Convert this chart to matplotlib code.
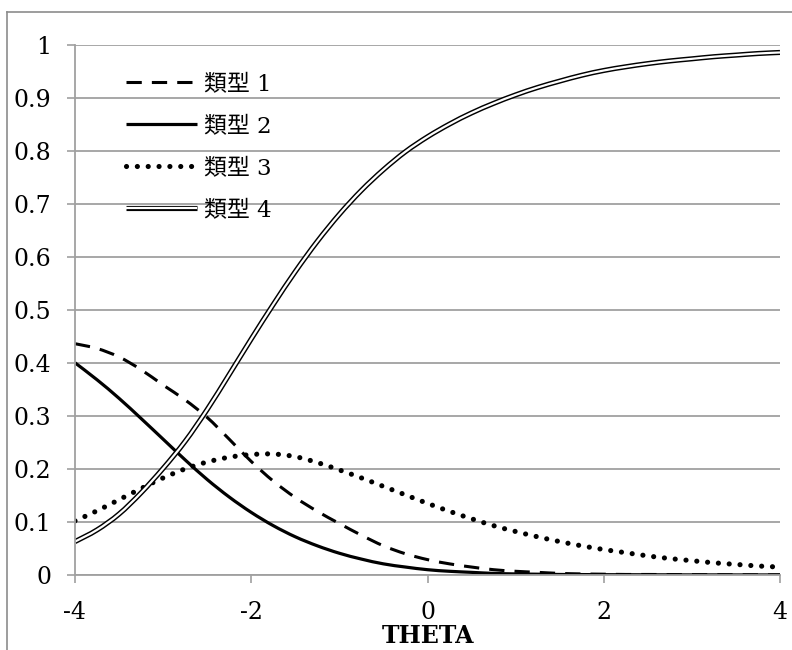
import matplotlib
matplotlib.use('Agg')
import matplotlib.pyplot as plt
from matplotlib.lines import Line2D
from matplotlib.patches import PathPatch
from matplotlib.path import Path
from matplotlib.ticker import FuncFormatter, MultipleLocator

plt.rcParams['font.family'] = ['DejaVu Serif', 'Noto Sans CJK JP']

theta = [-4.0, -3.75, -3.5, -3.25, -3.0, -2.75, -2.5, -2.25, -2.0, -1.75, -1.5, -1.25,
         -1.0, -0.75, -0.5, -0.25, 0.0, 0.25, 0.5, 0.75, 1.0, 1.25, 1.5, 1.75,
         2.0, 2.25, 2.5, 2.75, 3.0, 3.25, 3.5, 3.75, 4.0]

type1 = [0.436, 0.427, 0.411, 0.387, 0.358, 0.330, 0.297, 0.256, 0.214, 0.177, 0.146, 0.120,
         0.097, 0.075, 0.055, 0.040, 0.029, 0.021, 0.015, 0.010, 0.007, 0.005, 0.003, 0.002,
         0.0015, 0.001, 0.001, 0.0008, 0.0006, 0.0005, 0.0004, 0.0003, 0.0003]
type2 = [0.400, 0.368, 0.333, 0.295, 0.256, 0.217, 0.180, 0.147, 0.118, 0.093, 0.072, 0.055,
         0.041, 0.030, 0.021, 0.015, 0.010, 0.007, 0.005, 0.003, 0.002, 0.0015, 0.001, 0.0008,
         0.0006, 0.0005, 0.0004, 0.0003, 0.0002, 0.0002, 0.0001, 0.0001, 0.0001]
type3 = [0.102, 0.121, 0.142, 0.163, 0.183, 0.200, 0.213, 0.222, 0.227, 0.228, 0.223, 0.212,
         0.198, 0.183, 0.167, 0.151, 0.135, 0.120, 0.106, 0.093, 0.082, 0.072, 0.063, 0.055,
         0.048, 0.042, 0.036, 0.031, 0.027, 0.023, 0.020, 0.017, 0.015]
type4 = [0.063, 0.085, 0.115, 0.155, 0.201, 0.252, 0.312, 0.378, 0.445, 0.510, 0.572, 0.629,
         0.680, 0.725, 0.764, 0.798, 0.826, 0.850, 0.871, 0.889, 0.905, 0.919, 0.931, 0.942,
         0.951, 0.958, 0.964, 0.969, 0.973, 0.977, 0.980, 0.983, 0.985]

labels = ['類型 1', '類型 2', '類型 3', '類型 4']


def smooth_path(x, y):
    # Excel-like smoothed line: cubic bezier through every point (catmull-rom tangents)
    n = len(x)
    verts = [(x[0], y[0])]
    codes = [Path.MOVETO]
    for i in range(n - 1):
        a, b = max(i - 1, 0), min(i + 2, n - 1)
        c1 = (x[i] + (x[i + 1] - x[a]) / 6, y[i] + (y[i + 1] - y[a]) / 6)
        c2 = (x[i + 1] - (x[b] - x[i]) / 6, y[i + 1] - (y[b] - y[i]) / 6)
        verts += [c1, c2, (x[i + 1], y[i + 1])]
        codes += [Path.CURVE4] * 3
    return Path(verts, codes)


def draw(ax, y, **kw):
    ax.add_patch(PathPatch(smooth_path(theta, y), fill=False, **kw))


W, H = 792, 650
fig = plt.figure(figsize=(W / 100, H / 100), dpi=100)
ax = fig.add_axes([75 / W, 1 - 575 / H, 705 / W, 530.5 / H])

# outer chart border (cut by the image edge on the right and bottom)
border = '#8C8C8C'
fig.add_artist(Line2D([7 / W, 7 / W], [1 - 12 / H, 0], color=border, lw=1.2))
fig.add_artist(Line2D([7 / W, 1], [1 - 12 / H, 1 - 12 / H], color=border, lw=1.2))

grid = '#A0A0A0'
ax.grid(axis='y', color=grid, lw=1.3)
ax.set_axisbelow(True)
for s in ['top', 'right']:
    ax.spines[s].set_visible(False)
for s in ['left', 'bottom']:
    ax.spines[s].set_color(grid)
    ax.spines[s].set_linewidth(1.3)

dash = (0, (5, 3.3))
dots = (0, (0.01, 2.1))
draw(ax, type1, edgecolor='black', lw=2.2, linestyle=dash, capstyle='butt')
draw(ax, type2, edgecolor='black', lw=2.3, capstyle='butt')
draw(ax, type3, edgecolor='black', lw=3.7, linestyle=dots, capstyle='round')
draw(ax, type4, edgecolor='black', lw=3.7, capstyle='butt')
draw(ax, type4, edgecolor='white', lw=1.6, capstyle='butt')

ax.set_xlim(-4, 4)
ax.set_ylim(0, 1)
ax.xaxis.set_major_locator(MultipleLocator(2))
ax.yaxis.set_major_locator(MultipleLocator(0.1))
ax.yaxis.set_major_formatter(FuncFormatter(lambda v, p: '%g' % round(v, 1)))
ax.xaxis.set_major_formatter(FuncFormatter(lambda v, p: '%g' % v))
ax.tick_params(direction='out', length=6, width=1.2, color=grid, labelsize=17)
ax.tick_params(axis='y', pad=11)
ax.tick_params(axis='x', pad=13)
for t in ax.get_xticklabels() + ax.get_yticklabels():
    t.set_fontfamily('DejaVu Serif')

ax.set_xlabel('THETA', fontsize=17, fontweight='bold', fontfamily='DejaVu Serif', labelpad=0)

h1 = Line2D([], [], color='black', lw=2.2, ls=dash, dash_capstyle='butt')
h2 = Line2D([], [], color='black', lw=2.3, solid_capstyle='butt')
h3 = Line2D([], [], color='black', lw=3.7, ls=dots, dash_capstyle='round')
h4a = Line2D([], [], color='black', lw=3.7, solid_capstyle='butt')
h4b = Line2D([], [], color='white', lw=1.6, solid_capstyle='butt')
ax.legend([h1, h2, h3, (h4a, h4b)], labels, loc='upper left',
          bbox_to_anchor=(0.056, 0.968), frameon=False,
          handlelength=3.1, handletextpad=0.3, labelspacing=0.87, borderpad=0,
          prop={'family': ['DejaVu Serif', 'Noto Sans CJK JP'], 'size': 16.5})

fig.savefig('out.png', dpi=100)
